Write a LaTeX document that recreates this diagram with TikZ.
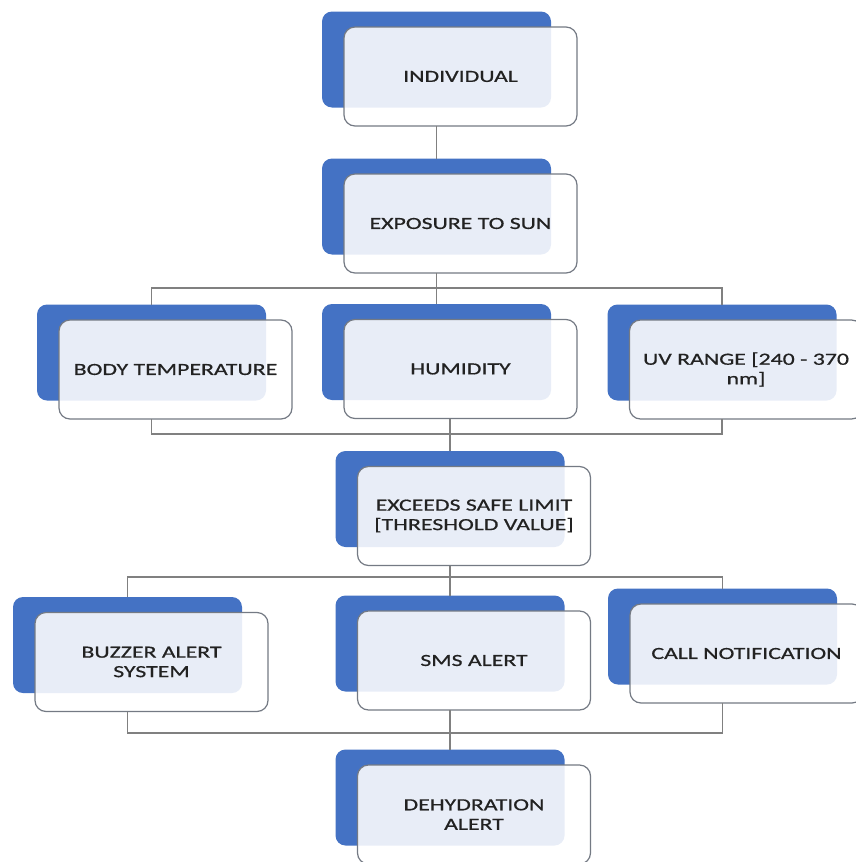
\documentclass[tikz,border=0pt]{standalone}
\usepackage{fontspec}
\setmainfont{Carlito}[FakeStretch=1.4,FakeBold=0.7]
\usepackage{tikz}
\definecolor{backcol}{HTML}{4472C4}
\definecolor{wirecol}{HTML}{808080}
\definecolor{edgecol}{HTML}{747A84}
\definecolor{txtcol}{HTML}{222222}
\newcommand{\stackbox}[3]{\node[backbox] (#1b) at (#2) {};
  \node[frontbox] (#1) at ([shift={(24,17)}]#1b) {#3};}

\begin{document}
\begin{tikzpicture}[x=1pt,y=-1pt,
  backbox/.style={fill=backcol,rounded corners=10pt,minimum width=229pt,minimum height=96pt,inner sep=0pt,outer sep=0pt},
  frontbox/.style={draw=edgecol,line width=1.2pt,fill=white,fill opacity=0.88,text opacity=1,rounded corners=11pt,
    minimum width=233pt,minimum height=99pt,inner sep=0pt,outer sep=0pt,align=center,text=txtcol,
    font=\fontsize{17}{19.5}\selectfont},
  wire/.style={draw=wirecol,line width=1.4pt}]
\useasboundingbox (0,0) rectangle (856,862);
\fill[white] (0,0) rectangle (856,862);

\stackbox{indiv}{436.5,59.5}{INDIVIDUAL}
\stackbox{sun}{436.5,206.5}{EXPOSURE TO SUN}

\stackbox{body}{151.5,352.5}{BODY TEMPERATURE}
\stackbox{hum}{436.5,352}{HUMIDITY}
\stackbox{uv}{722,352.5}{UV RANGE [240 - 370\\nm]}

\stackbox{limit}{450,499}{EXCEEDS SAFE LIMIT\\{[}THRESHOLD VALUE{]}}

\stackbox{buzz}{127.5,645}{BUZZER ALERT\\SYSTEM}
\stackbox{sms}{450,643.5}{SMS ALERT}
\stackbox{call}{722.5,636.5}{CALL NOTIFICATION}

\stackbox{dehyd}{450,797.5}{DEHYDRATION\\ALERT}

% connectors
\draw[wire] (indivb |- indiv.south) -- (sunb.north);
\coordinate (bus1) at (436.5,288);
\draw[wire] (sunb |- sun.south) -- (bus1) -- (humb.north);
\draw[wire] (bodyb.north) |- (bus1) -| (uvb.north);

\coordinate (bus2) at (450,434);
\draw[wire] (bodyb |- body.south) |- (bus2) -| (uvb |- uv.south);
\draw[wire] (limitb |- hum.south) -- (limitb.north);

\coordinate (bus3) at (450,577);
\draw[wire] (limitb |- limit.south) -- (smsb.north);
\draw[wire] (buzzb.north) |- (bus3) -| (callb.north);

\coordinate (bus4) at (450,733);
\draw[wire] (buzzb |- buzz.south) |- (bus4) -| (callb |- call.south);
\draw[wire] (smsb |- sms.south) -- (dehydb.north);
\end{tikzpicture}
\end{document}
